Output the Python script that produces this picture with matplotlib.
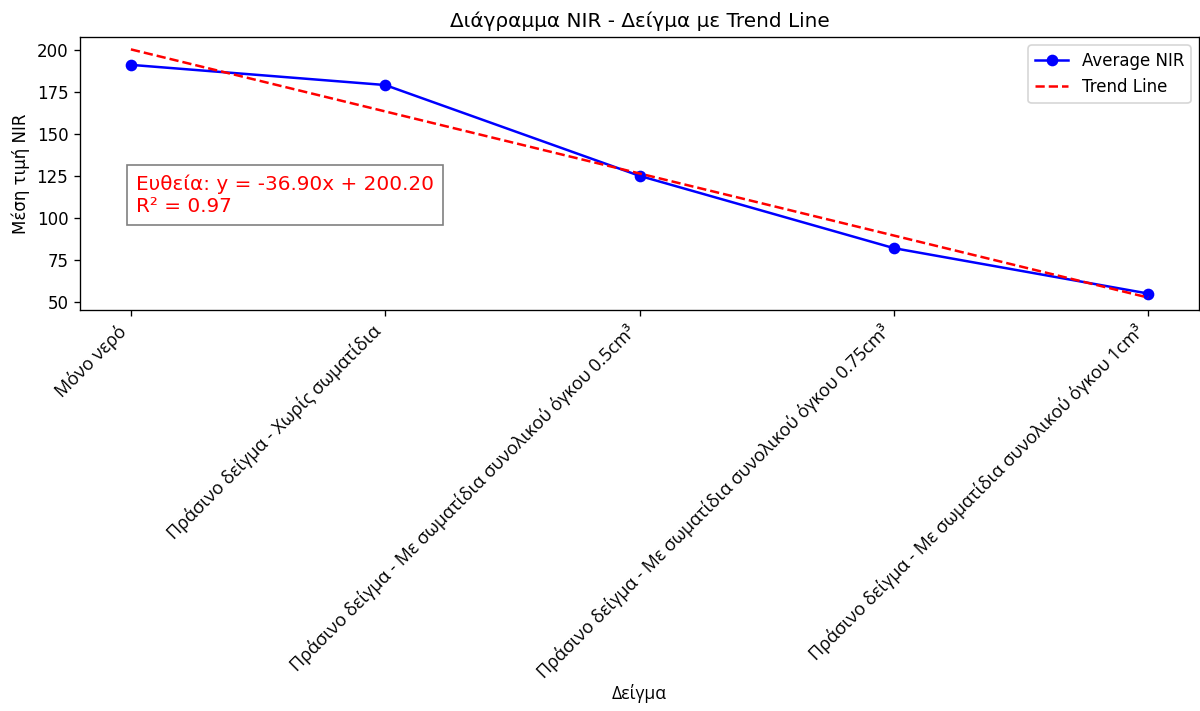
import matplotlib
matplotlib.use('Agg')
import matplotlib.pyplot as plt
import numpy as np

samples = ['Μόνο νερό',
           'Πράσινο δείγμα - Χωρίς σωματίδια',
           'Πράσινο δείγμα - Με σωματίδια συνολικού όγκου 0.5cm³',
           'Πράσινο δείγμα - Με σωματίδια συνολικού όγκου 0.75cm³',
           'Πράσινο δείγμα - Με σωματίδια συνολικού όγκου 1cm³']
avg_nir = [191, 179, 125, 82, 55]

x = np.arange(len(samples))
slope, intercept = np.polyfit(x, avg_nir, 1)
trend = slope * x + intercept
y = np.array(avg_nir)
r2 = 1 - np.sum((y - trend) ** 2) / np.sum((y - y.mean()) ** 2)

fig = plt.figure(figsize=(10, 5.925), dpi=120)
ax = fig.add_axes([0.0667, 0.564, 0.9325, 0.384])
ax.plot(x, avg_nir, 'o-', color='blue', label='Average NIR')
ax.plot(x, trend, '--', color='red', label='Trend Line')

ax.text(0.02, 126, 'Ευθεία: y = %.2fx + %.2f\nR² = %.2f' % (slope, intercept, r2),
        color='red', fontsize=12, va='top', ha='left',
        bbox=dict(facecolor='white', edgecolor='gray', pad=5.5))

ax.set_title('Διάγραμμα NIR - Δείγμα με Trend Line')
ax.set_ylabel('Μέση τιμή NIR')
ax.set_xlabel('Δείγμα', family=['Open Sans', 'DejaVu Sans'], fontsize=10.5,
              labelpad=1)
ax.set_xticks(x)
ax.set_xticklabels(samples, rotation=45, ha='right', fontsize=10.8,
                   family=['Open Sans', 'DejaVu Sans'])
ax.legend(loc='upper right')

fig.savefig('out.png', dpi=120)
